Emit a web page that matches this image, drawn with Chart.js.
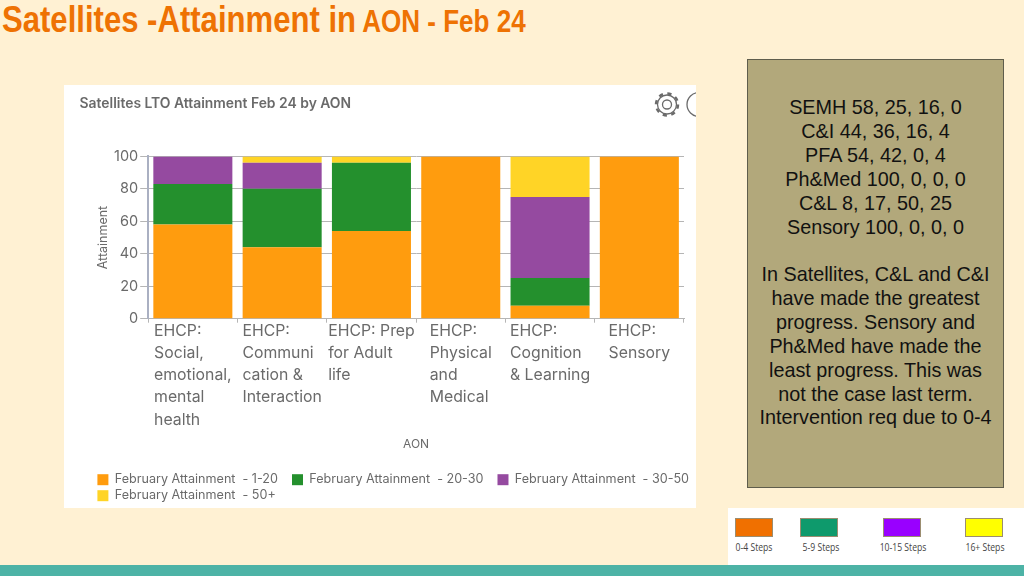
<!DOCTYPE html>
<html><head><meta charset="utf-8">
<script src="https://cdn.jsdelivr.net/npm/chart.js@4"></script>
<style>
html,body{margin:0;padding:0;width:1024px;height:576px;overflow:hidden;background:#FFF1D3;}
#head{position:absolute;left:2px;top:-1px;white-space:nowrap;font-family:"Liberation Sans",sans-serif;font-weight:700;color:#EE7203;line-height:42px;transform:scaleX(.84);transform-origin:0 0;}
#head .a{font-size:37px;}#head .b{font-size:31px;margin-left:-3px;}
#card{position:absolute;left:64px;top:85px;width:632px;height:423px;background:#fff;overflow:hidden;}
#card canvas{position:absolute;left:0;top:0;filter:blur(.45px);}
#gear{position:absolute;left:0;top:0;filter:blur(.4px);}
#panel{position:absolute;left:747px;top:59px;width:255px;height:427px;background:#B2A87B;border:1px solid #5F5D4C;font-family:"Liberation Sans",Arial,sans-serif;font-size:19.8px;line-height:23.9px;color:#111;text-align:center;white-space:nowrap;}
#panel div{position:absolute;left:0;right:0;}
#key{position:absolute;left:728px;top:508px;width:296px;height:57px;background:#fff;font-family:"Open Sans","Liberation Sans",sans-serif;font-size:10.5px;color:#444;}
.sw{position:absolute;top:10px;width:38px;height:19px;box-sizing:border-box;border:1px solid #9b8d70;}
.lb{position:absolute;top:32px;transform:translateX(-50%) scaleX(.82);white-space:nowrap;}
#band{position:absolute;left:0;top:565px;width:1024px;height:11px;background:#4DB3A6;}
</style></head>
<body>
<div id="head"><span class="a">Satellites -Attainment in </span><span class="b">AON - Feb 24</span></div>
<div id="card"><canvas id="c" width="660" height="423" style="width:660px;height:423px"></canvas>
<svg id="gear" width="632" height="423" fill="none" stroke="#6b6b6b">
<circle cx="603" cy="19.5" r="4.5" stroke-width="1.3"/>
<circle cx="603" cy="19.5" r="9.5" stroke-width="1.3"/>
<circle cx="603" cy="19.5" r="11" stroke-width="2.5" stroke-dasharray="4.2 4.44"/>
<circle cx="635" cy="19.5" r="12" stroke-width="1.3"/></svg></div>
<div id="panel"><div style="top:36px">SEMH 58, 25, 16, 0<br>C&amp;I 44, 36, 16, 4<br>PFA 54, 42, 0, 4<br>Ph&amp;Med 100, 0, 0, 0<br>C&amp;L 8, 17, 50, 25<br>Sensory 100, 0, 0, 0</div>
<div style="top:203px">In Satellites, C&amp;L and C&amp;I<br>have made the greatest<br>progress. Sensory and<br>Ph&amp;Med have made the<br>least progress. This was<br>not the case last term.<br>Intervention req due to 0-4</div></div>
<div id="key">
<div class="sw" style="left:7px;background:#F07000"></div><div class="lb" style="left:26px">0-4 Steps</div>
<div class="sw" style="left:72px;background:#0E9A6C"></div><div class="lb" style="left:93px">5-9 Steps</div>
<div class="sw" style="left:155px;background:#9900FF"></div><div class="lb" style="left:175px">10-15 Steps</div>
<div class="sw" style="left:237px;background:#FFFF00"></div><div class="lb" style="left:257px">16+ Steps</div>
</div>
<div id="band"></div>
<script>
const categories=[["EHCP:","Social,","emotional,","mental","health"],["EHCP:","Communi","cation &","Interaction"],["EHCP: Prep","for Adult","life"],["EHCP:","Physical","and","Medical"],["EHCP:","Cognition","& Learning"],["EHCP:","Sensory"]];
const band1to20=[58,44,54,100,8,100];
const band20to30=[25,36,42,0,17,0];
const band30to50=[17,16,0,0,50,0];
const band50plus=[0,4,4,0,25,0];
const FONT='Inter';const GREY='#6a6a6a';
const GAP='\u00A0\u00A0\u00A0';
const blockLabels={id:'blockLabels',
 afterLayout(chart){chart.titleBlock.left-=14.5;chart.titleBlock.right-=14.5;},
 beforeDraw(chart){const s=chart.scales.x,ctx=chart.ctx;
  s.getLabelItems().forEach((it,i)=>{ctx.save();ctx.font=it.font.string;
   const w=Math.max(...[].concat(it.label).map(t=>ctx.measureText(t).width));ctx.restore();
   it.options.textAlign='left';it.options.translation[0]=s.getPixelForTick(i)-w/2;});}};
new Chart(document.getElementById('c'),{type:'bar',
 data:{labels:categories,datasets:[
  {label:'February Attainment  - 1-20'+GAP,data:band1to20,backgroundColor:'#FF9C0E'},
  {label:'February Attainment  - 20-30'+GAP,data:band20to30,backgroundColor:'#24902D'},
  {label:'February Attainment  - 30-50',data:band30to50,backgroundColor:'#954AA0'},
  {label:'February Attainment  - 50+',data:band50plus,backgroundColor:'#FFD426'}]},
 plugins:[blockLabels],
 options:{responsive:false,animation:false,
  layout:{padding:{left:30,right:0,top:0,bottom:-4}},
  datasets:{bar:{barPercentage:.885,categoryPercentage:1}},
  plugins:{tooltip:{enabled:false},
   title:{display:true,text:'Satellites LTO Attainment Feb 24 by AON',align:'start',color:GREY,font:{family:FONT,size:13.9,weight:'600'},padding:{top:10,bottom:44.7}},
   legend:{position:'bottom',align:'start',labels:{boxWidth:11,boxHeight:11,padding:3.4,color:GREY,font:{family:FONT,size:12.6}}}},
  scales:{
   x:{stacked:true,afterFit(s){s.height=151.3;},
    grid:{drawOnChartArea:false,tickLength:4,color:'#b5b5b5'},border:{color:'#b5b5b5'},
    ticks:{autoSkip:false,maxRotation:0,padding:-3,color:GREY,font:{family:FONT,size:15.8,lineHeight:1.41}},
    title:{display:true,text:'AON',color:GREY,font:{family:FONT,size:12},padding:{top:0,bottom:18}}},
   y:{stacked:true,min:0,max:100,afterFit(s){s.width=54.2;},
    grid:{color:'#b5b5b5',tickLength:8},border:{color:'#aab0c2',width:2},
    ticks:{stepSize:20,padding:2,color:GREY,font:{family:FONT,size:14.5}},
    title:{display:true,text:'Attainment',color:GREY,font:{family:FONT,size:12.5},padding:{top:2,bottom:0}}},
   y2:{position:'right',afterFit(s){s.width=40;},grid:{display:false},border:{display:false},ticks:{display:false}}
  }}});
</script>
</body></html>
